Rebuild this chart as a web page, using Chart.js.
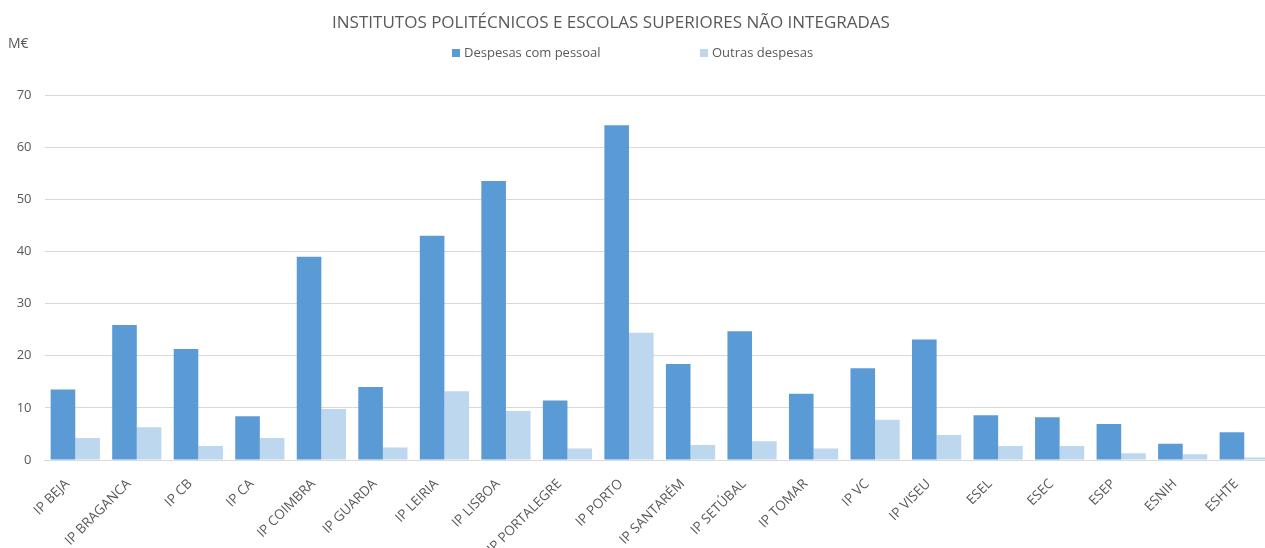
<!DOCTYPE html>
<html>
<head>
<meta charset="utf-8">
<script src="https://cdn.jsdelivr.net/npm/chart.js@4"></script>
<style>
  html, body { margin: 0; padding: 0; background: #fff; overflow: hidden; }
  /* the plot runs slightly past the right edge of the picture, like the original */
  #wrap { width: 1275px; height: 548px; position: relative; }
</style>
</head>
<body>
<div id="wrap"><canvas id="chart"></canvas></div>
<script>
// Institutions (x axis)
const categories = [
  'IP BEJA', 'IP BRAGANCA', 'IP CB', 'IP CA', 'IP COIMBRA', 'IP GUARDA',
  'IP LEIRIA', 'IP LISBOA', 'IP PORTALEGRE', 'IP PORTO', 'IP SANTARÉM',
  'IP SETÚBAL', 'IP TOMAR', 'IP VC', 'IP VISEU', 'ESEL', 'ESEC', 'ESEP',
  'ESNIH', 'ESHTE'
];

// M€ values
const despesasPessoal = [
  13.5, 25.9, 21.3, 8.4, 39.0, 14.0, 43.0, 53.5, 11.4, 64.2,
  18.4, 24.7, 12.7, 17.6, 23.1, 8.6, 8.2, 6.9, 3.1, 5.3
];
const outrasDespesas = [
  4.2, 6.3, 2.7, 4.2, 9.8, 2.4, 13.2, 9.4, 2.2, 24.4,
  2.9, 3.6, 2.2, 7.7, 4.8, 2.7, 2.7, 1.3, 1.1, 0.5
];

const seriesNames = ['Despesas com pessoal', 'Outras despesas'];
const seriesColors = ['#5B9BD5', '#BDD7EE'];
const yTicks = [0, 10, 20, 30, 40, 50, 60, 70];
const chartTitle = 'INSTITUTOS POLITÉCNICOS E ESCOLAS SUPERIORES NÃO INTEGRADAS';

const FONT = "'Open Sans', 'Liberation Sans', sans-serif";
const TEXT_GREY = '#595959';

// title, legend and the "M€" unit label, placed like the Excel original
const headerPlugin = {
  id: 'header',
  afterDraw(chart) {
    const ctx = chart.ctx;
    ctx.save();
    ctx.fillStyle = TEXT_GREY;
    ctx.textBaseline = 'middle';

    ctx.font = '17px ' + FONT;
    ctx.textAlign = 'center';
    ctx.fillText(chartTitle, 611, 23);

    ctx.textAlign = 'left';
    ctx.font = '14px ' + FONT;
    ctx.fillText('M€', 8, 44);

    ctx.font = '13px ' + FONT;
    const legendX = [452, 700];
    chart.data.datasets.forEach((ds, i) => {
      ctx.fillStyle = ds.backgroundColor;
      ctx.fillRect(legendX[i], 49, 8, 8);
      ctx.fillStyle = TEXT_GREY;
      ctx.fillText(ds.label, legendX[i] + 12, 53);
    });
    ctx.restore();
  }
};

new Chart(document.getElementById('chart'), {
  type: 'bar',
  data: {
    labels: categories,
    datasets: [
      { label: seriesNames[0], data: despesasPessoal, backgroundColor: seriesColors[0] },
      { label: seriesNames[1], data: outrasDespesas, backgroundColor: seriesColors[1] }
    ]
  },
  options: {
    responsive: true,
    maintainAspectRatio: false,
    animation: false,
    categoryPercentage: 0.8,
    barPercentage: 1.0,
    layout: { padding: { left: 0, right: 0, top: 95, bottom: 0 } },
    plugins: {
      title: { display: false },
      legend: { display: false },
      tooltip: { enabled: false }
    },
    scales: {
      x: {
        grid: { display: false },
        border: { color: '#D9D9D9' },
        ticks: {
          color: TEXT_GREY,
          font: { family: FONT, size: 13.5 },
          maxRotation: 45,
          minRotation: 45,
          autoSkip: false,
          padding: 8,
          labelOffset: -8
        },
        afterFit(scale) { scale.height = 88; }
      },
      y: {
        min: 0,
        max: 70,
        afterBuildTicks(scale) { scale.ticks = yTicks.map(v => ({ value: v })); },
        grid: { color: '#D9D9D9', drawTicks: false },
        border: { display: false },
        ticks: {
          color: TEXT_GREY,
          font: { family: FONT, size: 13 },
          padding: 13
        },
        afterFit(scale) { scale.width = 44.5; }
      }
    }
  },
  plugins: [headerPlugin]
});
</script>
</body>
</html>
